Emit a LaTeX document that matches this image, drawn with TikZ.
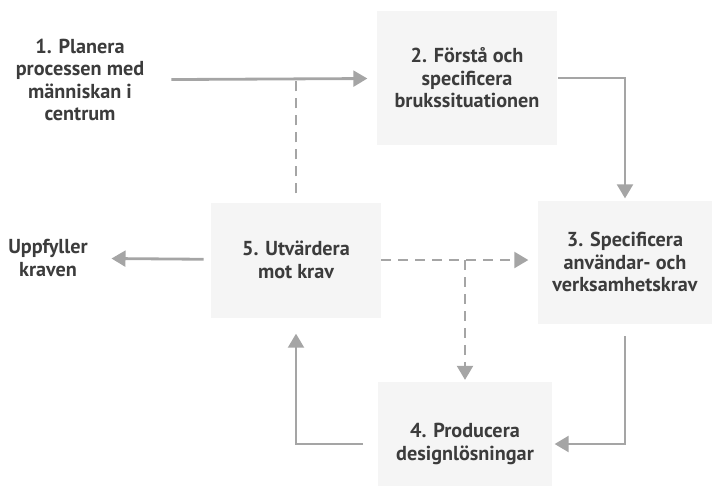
\documentclass[tikz,border=0pt]{standalone}
\usepackage{fontspec}
\setmainfont{PT Sans}
\usepackage{xcolor}
\usepackage{tikz}
\usetikzlibrary{positioning,arrows.meta,calc}

\definecolor{linegray}{RGB}{165,165,165}
\definecolor{boxgray}{RGB}{245,245,245}
\definecolor{textgray}{RGB}{60,60,60}

\begin{document}
\begin{tikzpicture}[
    x=0.02cm,y=-0.02cm,
    lbl/.style={align=center,text=textgray,font=\fontsize{11.5}{12.8}\selectfont\bfseries},
    box/.style={lbl,fill=boxgray,inner sep=0pt},
    arr/.style={-{Triangle[width=9pt,length=8pt]},draw=linegray,line width=1.6pt},
    dasharr/.style={arr,dash pattern=on 0.2cm off 0.14cm},
    dashline/.style={draw=linegray,line width=1.6pt,dash pattern=on 0.2cm off 0.14cm}
  ]
    \useasboundingbox (0,0) rectangle (713,485);
    \node[lbl] (plan) at (80,80) {1. Planera\\processen med\\människan i\\centrum};
    \node[box,minimum width=3.62cm,minimum height=2.68cm] (forsta) at (467,78) {2. Förstå och\\specificera\\brukssituationen};
    \node[box,minimum width=3.5cm,minimum height=2.46cm] (spec) at (625,262) {3. Specificera\\användar- och\\verksamhetskrav};
    \node[box,minimum width=3.5cm,minimum height=2.48cm] (prod) at (465,444) {4. Producera\\designlösningar};
    \node[box,minimum width=3.4cm,minimum height=2.3cm] (eval) at (296,260) {5. Utvärdera\\mot krav};
    \node[lbl] (uppf) at (48,258) {Uppfyller\\kraven};
    \coordinate (split) at (eval.east -| prod.north);
    \draw[arr,shorten <=12pt,shorten >=5pt] (plan) -- (forsta);
    \draw[arr,shorten >=1pt] (forsta.east) -| (spec.north);
    \draw[arr,shorten <=7pt,shorten >=1pt] (spec.south) |- (prod.east);
    \draw[arr,shorten <=8pt,shorten >=9pt] (prod.west) -| (eval.south);
    \draw[arr,shorten <=4pt,shorten >=10pt] (eval) -- (uppf);
    \draw[dasharr,shorten >=5pt] (eval.east) -- (eval.east -| spec.west);
    \draw[dasharr,shorten >=1pt] (split) -- (prod.north);
    \draw[dashline,shorten <=5pt] (eval.north) -- (eval.north |- forsta.west);
  \end{tikzpicture}
\end{document}
